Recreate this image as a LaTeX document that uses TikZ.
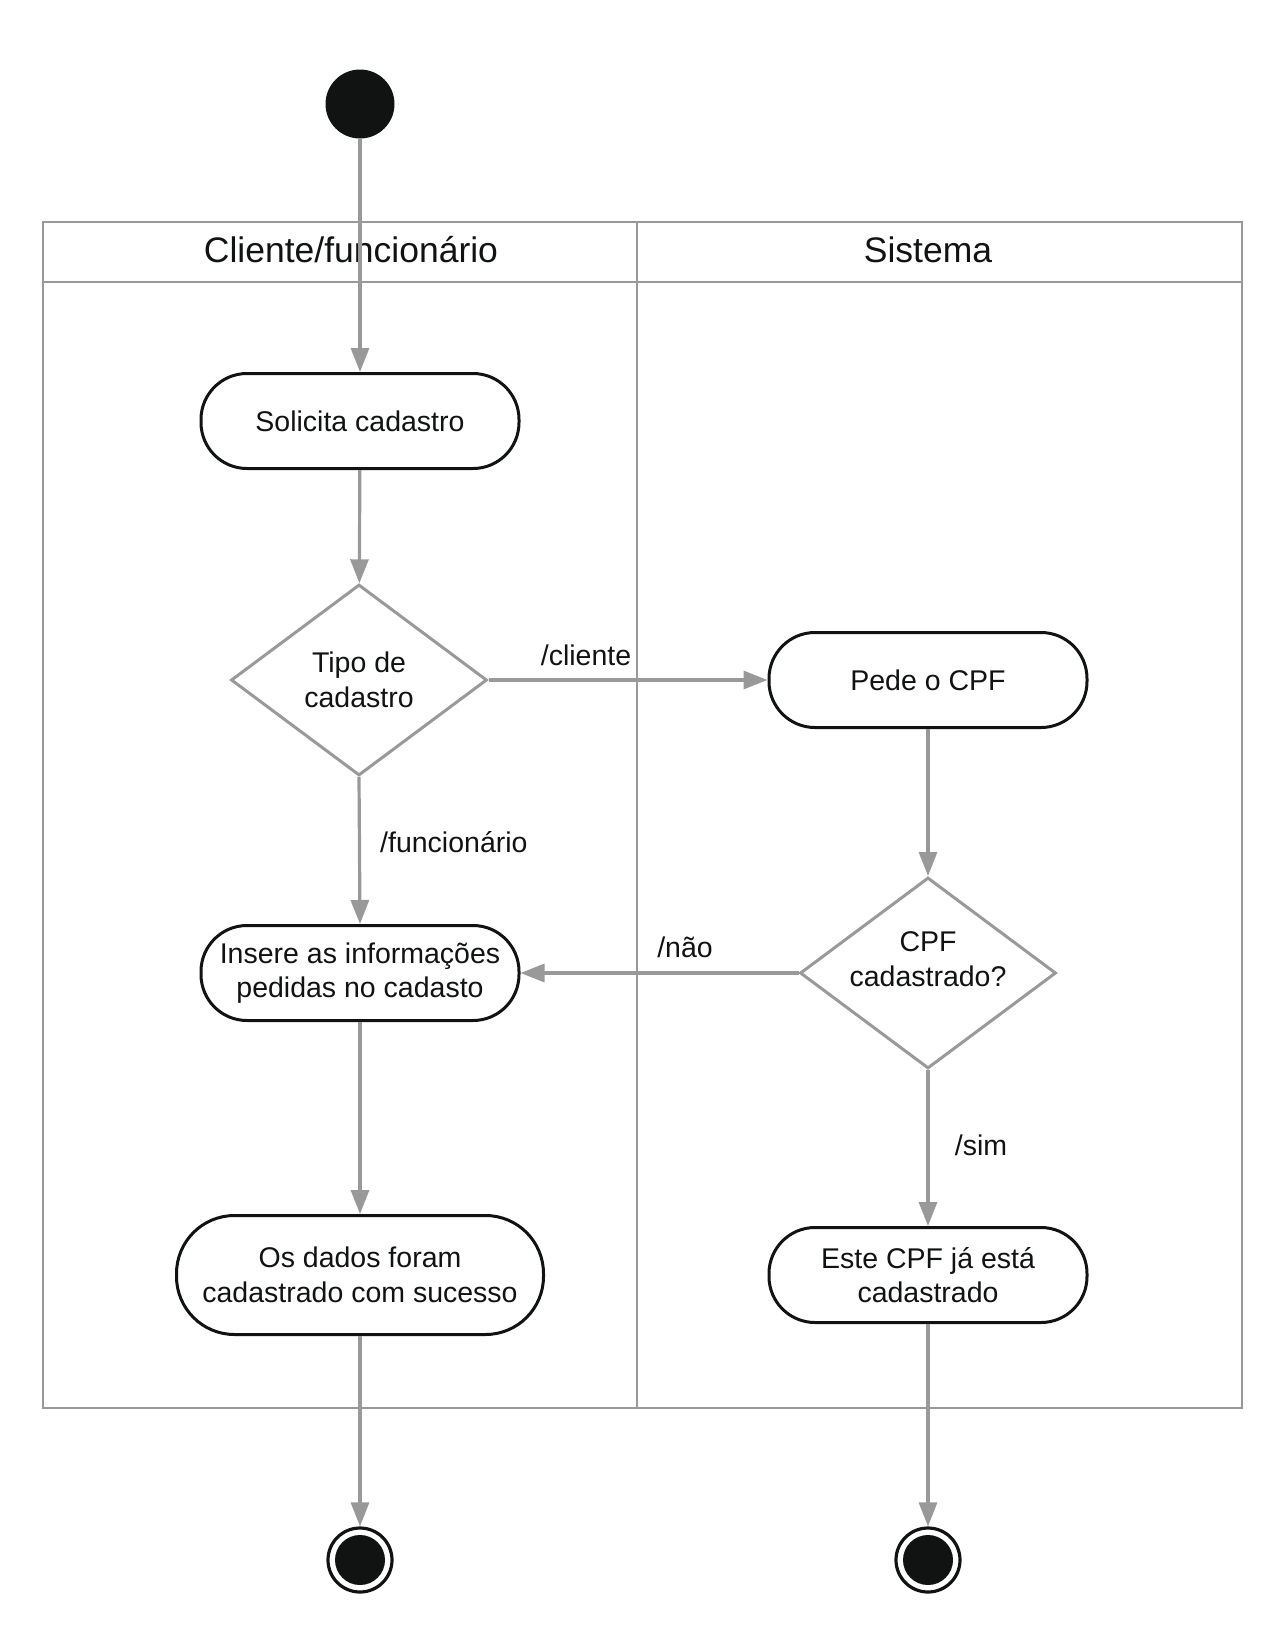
\documentclass[tikz,border=0pt]{standalone}
\usepackage{fontspec}
\setmainfont{Liberation Sans}
\usetikzlibrary{arrows.meta,shapes.geometric}
\definecolor{lin}{RGB}{153,153,153}
\definecolor{ink}{RGB}{17,19,19}
\tikzset{
  act/.style={draw=ink, line width=3pt, fill=white, rounded corners=46pt, inner sep=0pt,
    minimum width=318pt, minimum height=95pt, align=center, text=ink,
    font=\fontsize{28.5}{34.5}\selectfont},
  dec/.style={draw=lin, line width=3pt, fill=white, diamond, aspect=1.33, inner sep=0pt,
    minimum width=256pt, minimum height=191pt, align=center, text=ink,
    font=\fontsize{28.5}{34.5}\selectfont},
  flow/.style={draw=lin, line width=3.2pt, -{Triangle[length=24pt,width=18pt]}},
  lab/.style={text=ink, font=\fontsize{28.5}{34.5}\selectfont, inner sep=0pt},
  pool/.style={draw=lin, line width=2.8pt},
  head/.style={text=ink, font=\fontsize{35.5}{42}\selectfont, inner sep=0pt},
  startnode/.style={circle, fill=ink, minimum size=69pt, inner sep=0pt},
  endring/.style={circle, draw=ink, line width=3.2pt, fill=white, minimum size=64pt, inner sep=0pt},
  endcore/.style={circle, fill=ink, minimum size=50pt, inner sep=0pt},
}
\begin{document}
\begin{tikzpicture}[x=1pt,y=-1pt]
\useasboundingbox (0,0) rectangle (1275,1650);
% pool
\draw[pool] (43,222) rectangle (1242,1408);
\draw[pool] (43,282) -- (1242,282);
\draw[pool] (637,222) -- (637,1408);
\node[head] (h1) at (351,250) {Cliente/funcionário};
\node[head] (h2) at (928,250) {Sistema};
% nodes
\node[startnode] (start) at (360,104) {};
\node[act] (solicita) at (360,421) {Solicita cadastro};
\node[dec] (tipo) at (359,680) {Tipo de\\cadastro};
\node[act] (pede) at (928,680) {Pede o CPF};
\node[dec, label={[lab,align=center,yshift=14pt]center:CPF\\cadastrado?}] (cpf) at (928,973) {};
\node[act] (insere) at (360,973) {Insere as informações\\pedidas no cadasto};
\node[act, minimum width=367pt, minimum height=119pt, rounded corners=58pt] (dados) at (360,1275) {Os dados foram\\cadastrado com sucesso};
\node[act] (este) at (928,1275) {Este CPF já está\\cadastrado};
\node[endring] (end1) at (360,1560) {};
\node[endcore] (end1c) at (360,1560) {};
\node[endring] (end2) at (928,1560) {};
\node[endcore] (end2c) at (928,1560) {};
% connectors
\draw[flow] (start) -- (solicita);
\draw[flow] (solicita) -- (tipo);
\draw[flow] (tipo.east) -- (pede.west);
\draw[flow] (tipo.south) -- (insere.north);
\draw[flow] (pede) -- (cpf.north);
\draw[flow] (cpf.west) -- (insere.east);
\draw[flow] (cpf.south) -- (este.north);
\draw[flow] (insere) -- (dados);
\draw[flow] (dados) -- (end1);
\draw[flow] (este) -- (end2);
% labels
\node[lab] (lcli) at (586,655) {/cliente};
\node[lab, anchor=west] (lfun) at (380,842) {/funcionário};
\node[lab] (lnao) at (685,947) {/não};
\node[lab] (lsim) at (981,1145) {/sim};
\end{tikzpicture}
\end{document}
